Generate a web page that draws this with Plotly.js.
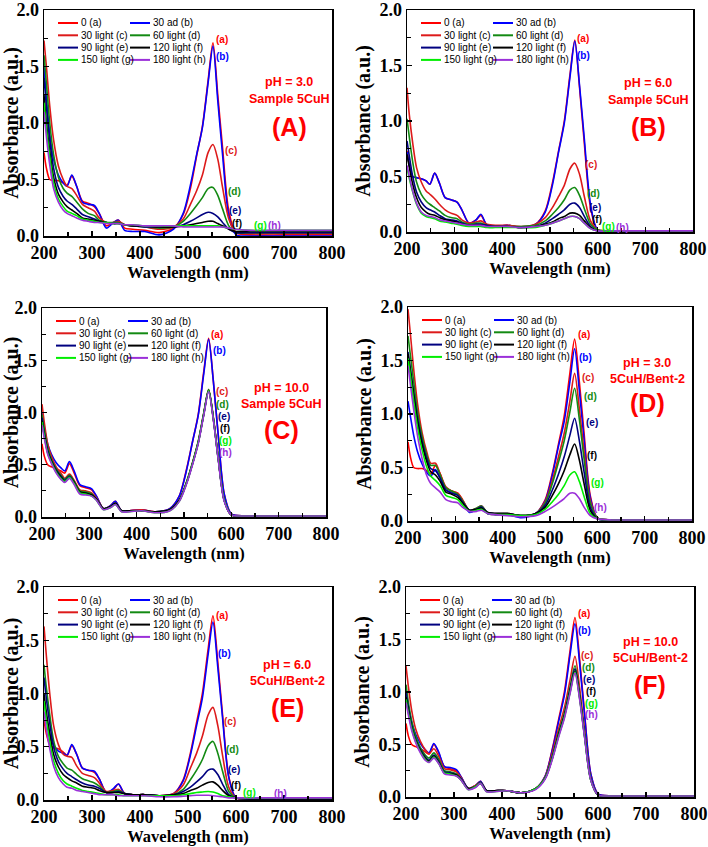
<!DOCTYPE html>
<html>
<head>
<meta charset="utf-8">
<script src="https://cdn.plot.ly/plotly-3.0.1.min.js"></script>
<style>
  html, body { margin: 0; padding: 0; background: #fff; }
  #chart { width: 708px; height: 847px; }
</style>
</head>
<body>
<div id="chart"></div>
<script>
// Wavelength grid (nm) shared by every spectrum
const wavelength = [200,205,212,220,230, 240,248,258,268,280, 292,305,315,330,345,
  355,368,385,410,440, 470,490,505,518,530, 542,552,562,572,585, 600,630,700,800];

const seriesNames = ['0 (a)', '30 ad (b)', '30 light (c)', '60 light (d)',
  '90 light (e)', '120 light (f)', '150 light (g)', '180 light (h)'];
const seriesTags = ['(a)', '(b)', '(c)', '(d)', '(e)', '(f)', '(g)', '(h)'];
const seriesColors = ['#FF0000', '#0000FF', '#DD1A1A', '#138A13',
  '#000080', '#000000', '#00EE00', '#9B30D9'];

const xTickValues = [200, 300, 400, 500, 600, 700, 800];
const yTickValues = [0, 0.5, 1.0, 1.5, 2.0];

// (A) pH 3.0, Sample 5CuH
const A_a = [0.74,0.60,0.50,0.49,0.49, 0.47,0.45,0.53,0.44,0.31, 0.29,0.26,0.20,0.09,0.12, 0.14,0.07,0.06,0.05,0.03, 0.07,0.19,0.42,0.71,0.97, 1.38,1.71,1.25,0.78,0.22, 0.03,0.01,0.01,0.01];
const A_b = [1.50,1.22,0.90,0.68,0.54, 0.47,0.44,0.54,0.44,0.30, 0.28,0.27,0.20,0.07,0.12, 0.14,0.05,0.04,0.04,0.01, 0.06,0.20,0.45,0.72,0.96, 1.36,1.68,1.20,0.72,0.18, 0.01,0.00,0.00,0.00];
const A_c = [1.73,1.50,1.15,0.85,0.62, 0.50,0.44,0.42,0.36,0.28, 0.25,0.22,0.16,0.12,0.12, 0.13,0.10,0.09,0.08,0.06, 0.08,0.15,0.28,0.40,0.54, 0.74,0.81,0.68,0.43,0.15, 0.03,0.02,0.02,0.02];
const A_d = [1.60,1.35,1.00,0.72,0.52, 0.42,0.38,0.35,0.30,0.24, 0.20,0.18,0.14,0.12,0.12, 0.12,0.10,0.09,0.08,0.07, 0.08,0.13,0.20,0.27,0.34, 0.42,0.43,0.36,0.24,0.09, 0.03,0.03,0.03,0.03];
const A_e = [1.40,1.15,0.85,0.60,0.43, 0.35,0.31,0.28,0.24,0.19, 0.17,0.15,0.13,0.12,0.11, 0.11,0.10,0.09,0.08,0.08, 0.08,0.10,0.13,0.16,0.19, 0.21,0.20,0.17,0.12,0.06, 0.03,0.03,0.03,0.03];
const A_f = [1.25,1.00,0.75,0.52,0.37, 0.30,0.26,0.23,0.20,0.16, 0.15,0.14,0.13,0.12,0.11, 0.11,0.10,0.09,0.09,0.08, 0.08,0.09,0.10,0.11,0.12, 0.13,0.13,0.11,0.09,0.06, 0.04,0.04,0.04,0.04];
const A_g = [1.18,0.95,0.70,0.47,0.33, 0.26,0.22,0.20,0.18,0.15, 0.14,0.13,0.12,0.12,0.11, 0.11,0.10,0.10,0.09,0.09, 0.09,0.09,0.09,0.09,0.09, 0.09,0.09,0.09,0.08,0.07, 0.06,0.05,0.05,0.05];
const A_h = [1.10,0.88,0.63,0.42,0.30, 0.23,0.20,0.18,0.16,0.14, 0.13,0.12,0.12,0.11,0.11, 0.11,0.10,0.10,0.09,0.09, 0.09,0.08,0.08,0.08,0.08, 0.08,0.08,0.08,0.08,0.07, 0.06,0.05,0.05,0.05];

// (B) pH 6.0, Sample 5CuH
const B_a = [0.73,0.60,0.50,0.49,0.48, 0.46,0.43,0.53,0.44,0.31, 0.29,0.27,0.20,0.08,0.11, 0.15,0.06,0.05,0.06,0.04, 0.07,0.19,0.44,0.73,1.00, 1.42,1.73,1.30,0.80,0.22, 0.02,0.01,0.01,0.01];
const B_b = [0.72,0.60,0.50,0.49,0.48, 0.46,0.43,0.53,0.44,0.31, 0.29,0.27,0.20,0.08,0.11, 0.16,0.06,0.05,0.06,0.04, 0.07,0.18,0.42,0.72,0.98, 1.40,1.72,1.32,0.84,0.25, 0.02,0.01,0.01,0.01];
const B_c = [1.30,1.05,0.80,0.58,0.45, 0.37,0.34,0.30,0.25,0.20, 0.17,0.15,0.11,0.08,0.09, 0.10,0.07,0.06,0.06,0.05, 0.07,0.13,0.22,0.32,0.42, 0.57,0.62,0.52,0.32,0.10, 0.02,0.01,0.01,0.01];
const B_d = [1.02,0.85,0.63,0.45,0.34, 0.28,0.25,0.22,0.19,0.15, 0.13,0.12,0.09,0.07,0.08, 0.08,0.06,0.05,0.05,0.05, 0.06,0.10,0.16,0.22,0.29, 0.38,0.40,0.33,0.21,0.07, 0.02,0.01,0.01,0.01];
const B_e = [0.82,0.68,0.50,0.36,0.27, 0.22,0.20,0.18,0.15,0.12, 0.11,0.10,0.08,0.06,0.07, 0.07,0.06,0.05,0.05,0.04, 0.05,0.08,0.12,0.16,0.20, 0.25,0.26,0.22,0.14,0.05, 0.01,0.01,0.01,0.01];
const B_f = [0.70,0.58,0.43,0.31,0.22, 0.18,0.16,0.15,0.13,0.11, 0.10,0.09,0.07,0.06,0.06, 0.06,0.05,0.05,0.05,0.04, 0.05,0.07,0.09,0.12,0.14, 0.17,0.17,0.15,0.10,0.04, 0.01,0.01,0.01,0.01];
const B_g = [0.58,0.48,0.36,0.25,0.17, 0.14,0.13,0.12,0.10,0.09, 0.08,0.07,0.06,0.05,0.05, 0.05,0.04,0.04,0.04,0.04, 0.04,0.06,0.08,0.10,0.12, 0.14,0.14,0.12,0.08,0.03, 0.01,0.01,0.01,0.01];
const B_h = [0.60,0.50,0.37,0.26,0.18, 0.15,0.14,0.13,0.11,0.10, 0.09,0.08,0.07,0.06,0.06, 0.06,0.05,0.05,0.05,0.04, 0.05,0.06,0.08,0.10,0.12, 0.14,0.14,0.12,0.08,0.03, 0.01,0.01,0.01,0.01];

// (C) pH 10.0, Sample 5CuH
const C_a = [0.70,0.58,0.50,0.48,0.46, 0.44,0.42,0.51,0.42,0.30, 0.28,0.26,0.20,0.08,0.11, 0.15,0.06,0.06,0.07,0.05, 0.08,0.20,0.45,0.72,0.98, 1.40,1.71,1.30,0.80,0.22, 0.03,0.01,0.01,0.01];
const C_b = [1.00,0.85,0.70,0.60,0.52, 0.47,0.44,0.53,0.44,0.31, 0.29,0.27,0.20,0.08,0.11, 0.15,0.06,0.06,0.07,0.05, 0.08,0.20,0.44,0.72,0.97, 1.38,1.70,1.30,0.80,0.22, 0.03,0.01,0.01,0.01];
const C_c = [1.08,0.90,0.70,0.58,0.48, 0.42,0.37,0.41,0.35,0.26, 0.25,0.23,0.18,0.08,0.10, 0.13,0.06,0.06,0.07,0.05, 0.07,0.16,0.33,0.52,0.72, 1.00,1.22,0.95,0.58,0.16, 0.02,0.01,0.01,0.01];
const C_d = [0.98,0.83,0.66,0.55,0.46, 0.40,0.36,0.40,0.34,0.25, 0.24,0.22,0.17,0.08,0.10, 0.13,0.06,0.06,0.06,0.05, 0.07,0.16,0.33,0.52,0.72, 1.00,1.22,0.95,0.58,0.16, 0.02,0.01,0.01,0.01];
const C_e = [0.95,0.80,0.64,0.54,0.45, 0.39,0.35,0.39,0.33,0.24, 0.23,0.21,0.17,0.08,0.10, 0.13,0.06,0.06,0.06,0.05, 0.07,0.16,0.32,0.51,0.71, 0.99,1.21,0.94,0.57,0.16, 0.02,0.01,0.01,0.01];
const C_f = [0.92,0.78,0.62,0.53,0.44, 0.38,0.34,0.38,0.33,0.24, 0.23,0.21,0.17,0.08,0.10, 0.13,0.06,0.06,0.06,0.05, 0.07,0.16,0.32,0.51,0.71, 0.99,1.21,0.94,0.57,0.16, 0.02,0.01,0.01,0.01];
const C_g = [0.91,0.77,0.61,0.52,0.43, 0.37,0.34,0.38,0.32,0.23, 0.22,0.20,0.16,0.07,0.09, 0.12,0.05,0.05,0.06,0.04, 0.06,0.15,0.32,0.51,0.71, 0.99,1.21,0.94,0.57,0.16, 0.02,0.01,0.01,0.01];
const C_h = [0.88,0.75,0.60,0.51,0.42, 0.36,0.33,0.37,0.31,0.22, 0.21,0.20,0.16,0.07,0.09, 0.12,0.05,0.05,0.06,0.04, 0.06,0.15,0.31,0.50,0.70, 0.98,1.20,0.93,0.56,0.15, 0.02,0.01,0.01,0.01];

// (D) pH 3.0, 5CuH/Bent-2
const D_a = [0.74,0.60,0.50,0.49,0.49, 0.47,0.44,0.52,0.44,0.31, 0.28,0.26,0.20,0.09,0.11, 0.14,0.07,0.06,0.06,0.04, 0.07,0.20,0.45,0.72,0.98, 1.38,1.70,1.30,0.82,0.24, 0.03,0.01,0.01,0.01];
const D_b = [1.12,0.98,0.80,0.65,0.53, 0.45,0.42,0.48,0.40,0.29, 0.27,0.25,0.19,0.08,0.11, 0.14,0.07,0.06,0.06,0.03, 0.07,0.19,0.43,0.70,0.93, 1.30,1.61,1.22,0.76,0.22, 0.03,0.01,0.01,0.01];
const D_c = [1.98,1.75,1.42,1.10,0.82, 0.64,0.54,0.54,0.44,0.32, 0.28,0.26,0.20,0.10,0.12, 0.14,0.08,0.07,0.07,0.05, 0.07,0.18,0.38,0.60,0.82, 1.12,1.38,1.05,0.65,0.19, 0.03,0.01,0.01,0.01];
const D_d = [1.73,1.55,1.30,1.02,0.78, 0.61,0.52,0.52,0.43,0.31, 0.28,0.25,0.19,0.10,0.12, 0.14,0.08,0.07,0.07,0.05, 0.07,0.17,0.35,0.55,0.75, 1.02,1.24,0.95,0.58,0.17, 0.03,0.01,0.01,0.01];
const D_e = [1.58,1.42,1.20,0.96,0.74, 0.58,0.49,0.47,0.40,0.29, 0.26,0.24,0.18,0.10,0.11, 0.13,0.08,0.07,0.07,0.05, 0.07,0.15,0.29,0.44,0.60, 0.80,0.96,0.75,0.46,0.13, 0.02,0.01,0.01,0.01];
const D_f = [1.56,1.40,1.18,0.93,0.71, 0.55,0.46,0.43,0.37,0.27, 0.25,0.22,0.17,0.10,0.11, 0.12,0.08,0.07,0.07,0.05, 0.07,0.13,0.24,0.35,0.47, 0.62,0.72,0.57,0.35,0.10, 0.02,0.01,0.01,0.01];
const D_g = [1.52,1.36,1.12,0.88,0.66, 0.50,0.42,0.38,0.33,0.24, 0.22,0.20,0.15,0.09,0.10, 0.11,0.07,0.06,0.06,0.05, 0.06,0.11,0.18,0.25,0.33, 0.43,0.46,0.37,0.23,0.07, 0.02,0.01,0.01,0.01];
const D_h = [1.45,1.28,1.04,0.80,0.58, 0.42,0.35,0.31,0.27,0.20, 0.18,0.17,0.13,0.09,0.09, 0.10,0.07,0.06,0.05,0.04, 0.05,0.09,0.13,0.17,0.21, 0.26,0.26,0.21,0.13,0.05, 0.02,0.01,0.01,0.01];

// (E) pH 6.0, 5CuH/Bent-2
const E_a = [0.75,0.62,0.52,0.49,0.48, 0.45,0.42,0.51,0.43,0.30, 0.28,0.26,0.20,0.07,0.10, 0.15,0.06,0.05,0.05,0.04, 0.06,0.19,0.44,0.73,1.00, 1.42,1.73,1.30,0.80,0.22, 0.02,0.01,0.01,0.01];
const E_b = [0.95,0.78,0.62,0.52,0.46, 0.44,0.42,0.52,0.43,0.30, 0.28,0.27,0.20,0.07,0.11, 0.15,0.06,0.05,0.05,0.04, 0.06,0.18,0.42,0.70,0.96, 1.37,1.67,1.25,0.77,0.21, 0.02,0.01,0.01,0.01];
const E_c = [1.63,1.35,1.00,0.70,0.52, 0.43,0.41,0.40,0.32,0.25, 0.23,0.21,0.16,0.08,0.09, 0.10,0.06,0.05,0.05,0.04, 0.06,0.14,0.30,0.44,0.60, 0.80,0.87,0.70,0.42,0.12, 0.02,0.01,0.01,0.01];
const E_d = [1.27,1.05,0.80,0.56,0.41, 0.34,0.30,0.28,0.24,0.20, 0.18,0.16,0.13,0.07,0.08, 0.09,0.06,0.05,0.05,0.04, 0.05,0.10,0.19,0.28,0.38, 0.51,0.55,0.44,0.27,0.08, 0.02,0.01,0.01,0.01];
const E_e = [1.15,0.95,0.72,0.50,0.36, 0.29,0.25,0.22,0.19,0.16, 0.14,0.13,0.11,0.07,0.07, 0.08,0.06,0.05,0.05,0.04, 0.05,0.08,0.12,0.17,0.22, 0.28,0.29,0.24,0.15,0.05, 0.02,0.01,0.01,0.01];
const E_f = [1.00,0.82,0.62,0.43,0.31, 0.24,0.21,0.18,0.16,0.13, 0.12,0.11,0.09,0.07,0.07, 0.07,0.06,0.05,0.05,0.04, 0.05,0.06,0.09,0.11,0.14, 0.165,0.17,0.14,0.09,0.04, 0.02,0.01,0.01,0.01];
const E_g = [0.93,0.75,0.55,0.37,0.25, 0.18,0.15,0.13,0.11,0.09, 0.08,0.07,0.06,0.05,0.05, 0.05,0.04,0.04,0.04,0.04, 0.04,0.05,0.06,0.07,0.075, 0.08,0.075,0.06,0.04,0.03, 0.02,0.02,0.02,0.02];
const E_h = [0.83,0.66,0.48,0.32,0.21, 0.15,0.12,0.11,0.09,0.08, 0.07,0.06,0.05,0.05,0.05, 0.04,0.04,0.04,0.04,0.03, 0.03,0.035,0.04,0.045,0.045, 0.045,0.04,0.035,0.03,0.02, 0.02,0.02,0.02,0.02];

// (F) pH 10.0, 5CuH/Bent-2
const F_a = [0.70,0.58,0.50,0.48,0.46, 0.43,0.41,0.50,0.42,0.29, 0.27,0.25,0.19,0.08,0.11, 0.15,0.06,0.06,0.06,0.04, 0.08,0.20,0.46,0.74,1.00, 1.40,1.71,1.30,0.80,0.22, 0.03,0.01,0.01,0.01];
const F_b = [1.00,0.86,0.71,0.60,0.51, 0.45,0.42,0.51,0.43,0.29, 0.28,0.26,0.19,0.08,0.11, 0.15,0.06,0.06,0.06,0.04, 0.08,0.20,0.45,0.72,0.97, 1.36,1.65,1.26,0.78,0.22, 0.03,0.01,0.01,0.01];
const F_c = [1.25,1.05,0.82,0.65,0.53, 0.45,0.41,0.46,0.39,0.27, 0.26,0.24,0.18,0.08,0.11, 0.14,0.06,0.06,0.06,0.04, 0.08,0.19,0.42,0.65,0.85, 1.12,1.34,1.03,0.64,0.18, 0.02,0.01,0.01,0.01];
const F_d = [1.07,0.90,0.72,0.58,0.47, 0.40,0.37,0.42,0.36,0.25, 0.24,0.22,0.17,0.08,0.10, 0.14,0.06,0.06,0.06,0.04, 0.08,0.18,0.39,0.61,0.80, 1.05,1.25,0.97,0.60,0.17, 0.02,0.01,0.01,0.01];
const F_e = [1.00,0.85,0.68,0.55,0.45, 0.38,0.35,0.40,0.34,0.24, 0.23,0.21,0.17,0.08,0.10, 0.14,0.06,0.06,0.06,0.04, 0.08,0.18,0.38,0.60,0.78, 1.03,1.22,0.95,0.59,0.17, 0.02,0.01,0.01,0.01];
const F_f = [0.95,0.82,0.66,0.54,0.44, 0.37,0.34,0.39,0.33,0.23, 0.22,0.21,0.16,0.08,0.10, 0.13,0.06,0.06,0.06,0.04, 0.08,0.18,0.37,0.59,0.77, 1.01,1.20,0.94,0.58,0.16, 0.02,0.01,0.01,0.01];
const F_g = [0.93,0.80,0.65,0.53,0.43, 0.36,0.33,0.38,0.32,0.23, 0.22,0.20,0.16,0.07,0.10, 0.13,0.05,0.05,0.06,0.04, 0.08,0.18,0.37,0.58,0.76, 1.00,1.19,0.93,0.58,0.16, 0.02,0.01,0.01,0.01];
const F_h = [0.90,0.78,0.63,0.52,0.42, 0.35,0.33,0.37,0.32,0.22, 0.21,0.20,0.16,0.07,0.09, 0.13,0.05,0.05,0.06,0.04, 0.07,0.17,0.36,0.57,0.75, 0.99,1.18,0.92,0.57,0.16, 0.02,0.01,0.01,0.01];

// Panel setup: pixel box [left, top, right, bottom], condition captions and tag anchors
const W = 708, H = 847;
const panels = [
  { letter: '(A)', series: [A_a, A_b, A_c, A_d, A_e, A_f, A_g, A_h], box: [44, 10, 332, 236],
    caption: ['pH = 3.0', 'Sample 5CuH'], capPos: [289, 82, 99, 127],
    tagPos: [[571, 1.74], [572, 1.59], [590, 0.755], [596, 0.39], [598, 0.225], [603, 0.115], [650, 0.09], [681, 0.09]] },
  { letter: '(B)', series: [B_a, B_b, B_c, B_d, B_e, B_f, B_g, B_h], box: [407, 10, 693, 232],
    caption: ['pH = 6.0', 'Sample 5CuH'], capPos: [648, 83, 100, 127],
    tagPos: [[570, 1.74], [571, 1.59], [587, 0.61], [592, 0.35], [594, 0.225], [598, 0.112], [622, 0.048], [652, 0.039]] },
  { letter: '(C)', series: [C_a, C_b, C_c, C_d, C_e, C_f, C_g, C_h], box: [42, 308, 326, 517],
    caption: ['pH = 10.0', 'Sample 5CuH'], capPos: [281, 388, 404, 430],
    tagPos: [[569, 1.75], [574, 1.59], [580, 1.20], [582, 1.08], [584, 0.96], [587, 0.845], [588, 0.73], [587, 0.615]] },
  { letter: '(D)', series: [D_a, D_b, D_c, D_d, D_e, D_f, D_g, D_h], box: [408, 307, 692, 521],
    caption: ['pH = 3.0', '5CuH/Bent-2'], capPos: [647, 363, 379, 403],
    tagPos: [[572, 1.745], [576, 1.53], [581, 1.34], [585, 1.16], [588, 0.925], [588, 0.61], [600, 0.36], [607, 0.13]] },
  { letter: '(E)', series: [E_a, E_b, E_c, E_d, E_e, E_f, E_g, E_h], box: [44, 587, 332, 800],
    caption: ['pH = 6.0', '5CuH/Bent-2'], capPos: [287, 665, 681, 708],
    tagPos: [[570, 1.73], [577, 1.38], [587, 0.74], [592, 0.475], [596, 0.29], [599, 0.14], [628, 0.07], [692, 0.058]] },
  { letter: '(F)', series: [F_a, F_b, F_c, F_d, F_e, F_f, F_g, F_h], box: [406, 587, 694, 797],
    caption: ['pH = 10.0', '5CuH/Bent-2'], capPos: [650, 642, 658, 685],
    tagPos: [[571, 1.75], [572, 1.59], [578, 1.35], [581, 1.235], [581, 1.12], [586, 1.005], [586, 0.895], [586, 0.785]] }
];

const serif = 'Liberation Serif, Times New Roman, serif';
const sans = 'Liberation Sans, Arial, sans-serif';
const px = v => v / W;
const py = v => 1 - v / H;

const baseAxis = {
  ticks: 'inside', ticklen: 5, tickwidth: 1.2, tickcolor: '#000',
  showline: true, linecolor: '#000', linewidth: 1.5, mirror: true,
  showgrid: false, zeroline: false, fixedrange: true, automargin: false,
  tickfont: { family: serif, size: 18, color: '#000', weight: 'bold' }
};

const traces = [];
const layout = {
  width: W, height: H,
  margin: { l: 0, r: 0, t: 0, b: 0 },
  paper_bgcolor: '#fff', plot_bgcolor: '#fff',
  showlegend: false,
  shapes: [], annotations: []
};

panels.forEach((p, i) => {
  const n = i === 0 ? '' : String(i + 1);
  const xr = 'x' + n, yr = 'y' + n;
  const [L, T, R, B] = p.box;

  layout['xaxis' + n] = Object.assign({}, baseAxis, {
    domain: [px(L), px(R)], anchor: yr, range: [200, 800],
    tickmode: 'array', tickvals: xTickValues, ticktext: xTickValues.map(String),
    minor: { tickvals: [250, 350, 450, 550, 650, 750], ticks: 'inside', ticklen: 4, tickcolor: '#000' },
    title: { text: 'Wavelength (nm)', font: { family: serif, size: 16.5, color: '#000', weight: 'bold' }, standoff: 4 }
  });
  layout['yaxis' + n] = Object.assign({}, baseAxis, {
    domain: [py(B), py(T)], anchor: xr, range: [0, 2.0],
    tickmode: 'array', tickvals: yTickValues, ticktext: yTickValues.map(v => v.toFixed(1)),
    minor: { tickvals: [0.25, 0.75, 1.25, 1.75], ticks: 'inside', ticklen: 4, tickcolor: '#000' },
    title: { text: 'Absorbance (a.u.)', font: { family: serif, size: 20, color: '#000', weight: 'bold' }, standoff: 3 }
  });

  p.series.forEach((ys, k) => {
    traces.push({
      type: 'scatter', mode: 'lines', x: wavelength, y: ys,
      xaxis: xr, yaxis: yr, name: seriesNames[k],
      line: { color: seriesColors[k], width: 1.6, shape: 'spline', smoothing: 0.8 },
      cliponaxis: true
    });
    // curve tags near the visible band
    layout.annotations.push({
      xref: xr, yref: yr, x: p.tagPos[k][0], y: p.tagPos[k][1],
      text: seriesTags[k], showarrow: false, xanchor: 'center', yanchor: 'middle',
      borderpad: 0,
      font: { family: sans, size: 10, color: seriesColors[k], weight: 'bold' }
    });
    // two-column key in the upper left corner
    const col = k % 2, row = Math.floor(k / 2);
    const x0 = L + (col ? 86 : 14), x1 = x0 + 20, yk = T + 13 + row * 12.3;
    layout.shapes.push({
      type: 'line', xref: 'paper', yref: 'paper',
      x0: px(x0), x1: px(x1), y0: py(yk), y1: py(yk),
      line: { color: seriesColors[k], width: 2 }
    });
    layout.annotations.push({
      xref: 'paper', yref: 'paper', x: px(x1 + 1), y: py(yk),
      text: seriesNames[k], showarrow: false, xanchor: 'left', yanchor: 'middle',
      font: { family: sans, size: 10, color: '#000' }
    });
  });

  // condition captions and panel letter
  const [cx, c1, c2, c3] = p.capPos;
  [[p.caption[0], c1, 12.5], [p.caption[1], c2, 12.5], [p.letter, c3, 25]].forEach(([txt, yy, sz]) => {
    layout.annotations.push({
      xref: 'paper', yref: 'paper', x: px(cx), y: py(yy),
      text: txt, showarrow: false, xanchor: 'center', yanchor: 'middle',
      font: { family: sans, size: sz, color: '#FF0000', weight: 'bold' }
    });
  });
});

Plotly.newPlot('chart', traces, layout, { displayModeBar: false, staticPlot: true });
</script>
</body>
</html>
